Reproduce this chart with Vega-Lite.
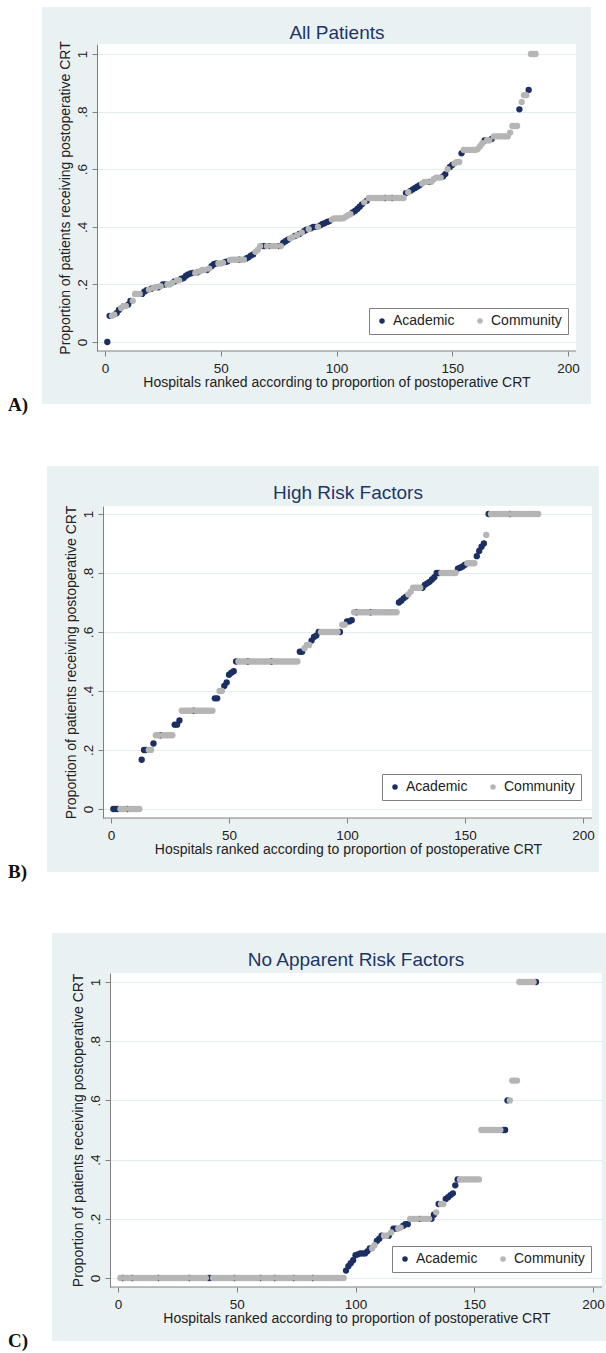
{
"$schema": "https://vega.github.io/schema/vega-lite/v6.json",
"padding": 0,
"background": "white",
"spacing": 155,
"bounds": "flush",
"datasets": {
"all": [
{"rank":1,"proportion":0,"type":"Academic"},
{"rank":2,"proportion":0.091,"type":"Academic"},
{"rank":3,"proportion":0.091,"type":"Community"},
{"rank":4,"proportion":0.095,"type":"Community"},
{"rank":5,"proportion":0.1,"type":"Academic"},
{"rank":6,"proportion":0.111,"type":"Academic"},
{"rank":7,"proportion":0.118,"type":"Community"},
{"rank":8,"proportion":0.125,"type":"Community"},
{"rank":9,"proportion":0.125,"type":"Community"},
{"rank":10,"proportion":0.13,"type":"Academic"},
{"rank":11,"proportion":0.143,"type":"Academic"},
{"rank":12,"proportion":0.143,"type":"Community"},
{"rank":13,"proportion":0.167,"type":"Community"},
{"rank":14,"proportion":0.167,"type":"Community"},
{"rank":15,"proportion":0.167,"type":"Community"},
{"rank":16,"proportion":0.167,"type":"Academic"},
{"rank":17,"proportion":0.175,"type":"Academic"},
{"rank":18,"proportion":0.18,"type":"Academic"},
{"rank":19,"proportion":0.182,"type":"Community"},
{"rank":20,"proportion":0.185,"type":"Academic"},
{"rank":21,"proportion":0.188,"type":"Community"},
{"rank":22,"proportion":0.19,"type":"Community"},
{"rank":23,"proportion":0.19,"type":"Academic"},
{"rank":24,"proportion":0.194,"type":"Community"},
{"rank":25,"proportion":0.2,"type":"Academic"},
{"rank":26,"proportion":0.2,"type":"Academic"},
{"rank":27,"proportion":0.2,"type":"Community"},
{"rank":28,"proportion":0.2,"type":"Community"},
{"rank":29,"proportion":0.205,"type":"Community"},
{"rank":30,"proportion":0.21,"type":"Academic"},
{"rank":31,"proportion":0.214,"type":"Community"},
{"rank":32,"proportion":0.214,"type":"Community"},
{"rank":33,"proportion":0.22,"type":"Academic"},
{"rank":34,"proportion":0.222,"type":"Academic"},
{"rank":35,"proportion":0.23,"type":"Academic"},
{"rank":36,"proportion":0.235,"type":"Academic"},
{"rank":37,"proportion":0.238,"type":"Academic"},
{"rank":38,"proportion":0.24,"type":"Academic"},
{"rank":39,"proportion":0.24,"type":"Community"},
{"rank":40,"proportion":0.242,"type":"Academic"},
{"rank":41,"proportion":0.245,"type":"Community"},
{"rank":42,"proportion":0.25,"type":"Community"},
{"rank":43,"proportion":0.25,"type":"Community"},
{"rank":44,"proportion":0.25,"type":"Academic"},
{"rank":45,"proportion":0.255,"type":"Community"},
{"rank":46,"proportion":0.263,"type":"Academic"},
{"rank":47,"proportion":0.27,"type":"Academic"},
{"rank":48,"proportion":0.273,"type":"Academic"},
{"rank":49,"proportion":0.273,"type":"Community"},
{"rank":50,"proportion":0.273,"type":"Community"},
{"rank":51,"proportion":0.275,"type":"Community"},
{"rank":52,"proportion":0.278,"type":"Academic"},
{"rank":53,"proportion":0.28,"type":"Academic"},
{"rank":54,"proportion":0.285,"type":"Community"},
{"rank":55,"proportion":0.286,"type":"Community"},
{"rank":56,"proportion":0.286,"type":"Community"},
{"rank":57,"proportion":0.286,"type":"Community"},
{"rank":58,"proportion":0.286,"type":"Academic"},
{"rank":59,"proportion":0.286,"type":"Community"},
{"rank":60,"proportion":0.286,"type":"Community"},
{"rank":61,"proportion":0.29,"type":"Academic"},
{"rank":62,"proportion":0.294,"type":"Academic"},
{"rank":63,"proportion":0.3,"type":"Academic"},
{"rank":64,"proportion":0.304,"type":"Academic"},
{"rank":65,"proportion":0.313,"type":"Community"},
{"rank":66,"proportion":0.32,"type":"Community"},
{"rank":67,"proportion":0.333,"type":"Community"},
{"rank":68,"proportion":0.333,"type":"Academic"},
{"rank":69,"proportion":0.333,"type":"Academic"},
{"rank":70,"proportion":0.333,"type":"Community"},
{"rank":71,"proportion":0.333,"type":"Academic"},
{"rank":72,"proportion":0.333,"type":"Community"},
{"rank":73,"proportion":0.333,"type":"Community"},
{"rank":74,"proportion":0.333,"type":"Community"},
{"rank":75,"proportion":0.333,"type":"Academic"},
{"rank":76,"proportion":0.333,"type":"Community"},
{"rank":77,"proportion":0.345,"type":"Academic"},
{"rank":78,"proportion":0.35,"type":"Academic"},
{"rank":79,"proportion":0.355,"type":"Academic"},
{"rank":80,"proportion":0.36,"type":"Community"},
{"rank":81,"proportion":0.364,"type":"Community"},
{"rank":82,"proportion":0.368,"type":"Academic"},
{"rank":83,"proportion":0.371,"type":"Community"},
{"rank":84,"proportion":0.375,"type":"Academic"},
{"rank":85,"proportion":0.38,"type":"Community"},
{"rank":86,"proportion":0.385,"type":"Academic"},
{"rank":87,"proportion":0.39,"type":"Academic"},
{"rank":88,"proportion":0.392,"type":"Community"},
{"rank":89,"proportion":0.395,"type":"Academic"},
{"rank":90,"proportion":0.4,"type":"Academic"},
{"rank":91,"proportion":0.4,"type":"Academic"},
{"rank":92,"proportion":0.4,"type":"Community"},
{"rank":93,"proportion":0.405,"type":"Academic"},
{"rank":94,"proportion":0.41,"type":"Academic"},
{"rank":95,"proportion":0.413,"type":"Academic"},
{"rank":96,"proportion":0.417,"type":"Academic"},
{"rank":97,"proportion":0.42,"type":"Academic"},
{"rank":98,"proportion":0.425,"type":"Community"},
{"rank":99,"proportion":0.429,"type":"Community"},
{"rank":100,"proportion":0.429,"type":"Community"},
{"rank":101,"proportion":0.429,"type":"Community"},
{"rank":102,"proportion":0.429,"type":"Community"},
{"rank":103,"proportion":0.43,"type":"Community"},
{"rank":104,"proportion":0.435,"type":"Community"},
{"rank":105,"proportion":0.44,"type":"Community"},
{"rank":106,"proportion":0.444,"type":"Community"},
{"rank":107,"proportion":0.45,"type":"Academic"},
{"rank":108,"proportion":0.455,"type":"Academic"},
{"rank":109,"proportion":0.462,"type":"Academic"},
{"rank":110,"proportion":0.47,"type":"Academic"},
{"rank":111,"proportion":0.478,"type":"Academic"},
{"rank":112,"proportion":0.485,"type":"Community"},
{"rank":113,"proportion":0.49,"type":"Academic"},
{"rank":114,"proportion":0.5,"type":"Community"},
{"rank":115,"proportion":0.5,"type":"Community"},
{"rank":116,"proportion":0.5,"type":"Community"},
{"rank":117,"proportion":0.5,"type":"Community"},
{"rank":118,"proportion":0.5,"type":"Community"},
{"rank":119,"proportion":0.5,"type":"Community"},
{"rank":120,"proportion":0.5,"type":"Community"},
{"rank":121,"proportion":0.5,"type":"Academic"},
{"rank":122,"proportion":0.5,"type":"Community"},
{"rank":123,"proportion":0.5,"type":"Community"},
{"rank":124,"proportion":0.5,"type":"Academic"},
{"rank":125,"proportion":0.5,"type":"Community"},
{"rank":126,"proportion":0.5,"type":"Community"},
{"rank":127,"proportion":0.5,"type":"Community"},
{"rank":128,"proportion":0.5,"type":"Community"},
{"rank":129,"proportion":0.5,"type":"Community"},
{"rank":130,"proportion":0.517,"type":"Academic"},
{"rank":131,"proportion":0.52,"type":"Community"},
{"rank":132,"proportion":0.525,"type":"Academic"},
{"rank":133,"proportion":0.53,"type":"Academic"},
{"rank":134,"proportion":0.535,"type":"Academic"},
{"rank":135,"proportion":0.54,"type":"Academic"},
{"rank":136,"proportion":0.545,"type":"Academic"},
{"rank":137,"proportion":0.55,"type":"Community"},
{"rank":138,"proportion":0.556,"type":"Community"},
{"rank":139,"proportion":0.556,"type":"Community"},
{"rank":140,"proportion":0.556,"type":"Academic"},
{"rank":141,"proportion":0.556,"type":"Community"},
{"rank":142,"proportion":0.565,"type":"Community"},
{"rank":143,"proportion":0.571,"type":"Community"},
{"rank":144,"proportion":0.571,"type":"Community"},
{"rank":145,"proportion":0.571,"type":"Community"},
{"rank":146,"proportion":0.575,"type":"Academic"},
{"rank":147,"proportion":0.583,"type":"Academic"},
{"rank":148,"proportion":0.6,"type":"Community"},
{"rank":149,"proportion":0.608,"type":"Academic"},
{"rank":150,"proportion":0.615,"type":"Academic"},
{"rank":151,"proportion":0.62,"type":"Community"},
{"rank":152,"proportion":0.625,"type":"Community"},
{"rank":153,"proportion":0.625,"type":"Community"},
{"rank":154,"proportion":0.655,"type":"Academic"},
{"rank":155,"proportion":0.667,"type":"Community"},
{"rank":156,"proportion":0.667,"type":"Community"},
{"rank":157,"proportion":0.667,"type":"Community"},
{"rank":158,"proportion":0.667,"type":"Community"},
{"rank":159,"proportion":0.667,"type":"Community"},
{"rank":160,"proportion":0.667,"type":"Community"},
{"rank":161,"proportion":0.67,"type":"Community"},
{"rank":162,"proportion":0.68,"type":"Community"},
{"rank":163,"proportion":0.69,"type":"Community"},
{"rank":164,"proportion":0.7,"type":"Academic"},
{"rank":165,"proportion":0.7,"type":"Community"},
{"rank":166,"proportion":0.7,"type":"Community"},
{"rank":167,"proportion":0.705,"type":"Academic"},
{"rank":168,"proportion":0.714,"type":"Community"},
{"rank":169,"proportion":0.714,"type":"Community"},
{"rank":170,"proportion":0.714,"type":"Community"},
{"rank":171,"proportion":0.714,"type":"Community"},
{"rank":172,"proportion":0.714,"type":"Community"},
{"rank":173,"proportion":0.714,"type":"Community"},
{"rank":174,"proportion":0.714,"type":"Community"},
{"rank":175,"proportion":0.727,"type":"Community"},
{"rank":176,"proportion":0.75,"type":"Community"},
{"rank":177,"proportion":0.75,"type":"Community"},
{"rank":178,"proportion":0.75,"type":"Community"},
{"rank":179,"proportion":0.808,"type":"Academic"},
{"rank":180,"proportion":0.833,"type":"Community"},
{"rank":181,"proportion":0.857,"type":"Community"},
{"rank":182,"proportion":0.857,"type":"Community"},
{"rank":183,"proportion":0.875,"type":"Academic"},
{"rank":184,"proportion":1,"type":"Community"},
{"rank":185,"proportion":1,"type":"Community"},
{"rank":186,"proportion":1,"type":"Community"}
],
"high": [
{"rank":1,"proportion":0,"type":"Academic"},
{"rank":2,"proportion":0,"type":"Academic"},
{"rank":3,"proportion":0,"type":"Academic"},
{"rank":4,"proportion":0,"type":"Community"},
{"rank":5,"proportion":0,"type":"Community"},
{"rank":6,"proportion":0,"type":"Community"},
{"rank":7,"proportion":0,"type":"Academic"},
{"rank":8,"proportion":0,"type":"Community"},
{"rank":9,"proportion":0,"type":"Community"},
{"rank":10,"proportion":0,"type":"Community"},
{"rank":11,"proportion":0,"type":"Community"},
{"rank":12,"proportion":0,"type":"Community"},
{"rank":13,"proportion":0.167,"type":"Academic"},
{"rank":14,"proportion":0.2,"type":"Academic"},
{"rank":15,"proportion":0.2,"type":"Academic"},
{"rank":16,"proportion":0.2,"type":"Community"},
{"rank":17,"proportion":0.2,"type":"Community"},
{"rank":18,"proportion":0.222,"type":"Academic"},
{"rank":19,"proportion":0.25,"type":"Community"},
{"rank":20,"proportion":0.25,"type":"Community"},
{"rank":21,"proportion":0.25,"type":"Academic"},
{"rank":22,"proportion":0.25,"type":"Community"},
{"rank":23,"proportion":0.25,"type":"Community"},
{"rank":24,"proportion":0.25,"type":"Community"},
{"rank":25,"proportion":0.25,"type":"Community"},
{"rank":26,"proportion":0.25,"type":"Community"},
{"rank":27,"proportion":0.286,"type":"Academic"},
{"rank":28,"proportion":0.286,"type":"Academic"},
{"rank":29,"proportion":0.3,"type":"Academic"},
{"rank":30,"proportion":0.333,"type":"Community"},
{"rank":31,"proportion":0.333,"type":"Community"},
{"rank":32,"proportion":0.333,"type":"Community"},
{"rank":33,"proportion":0.333,"type":"Community"},
{"rank":34,"proportion":0.333,"type":"Community"},
{"rank":35,"proportion":0.333,"type":"Academic"},
{"rank":36,"proportion":0.333,"type":"Community"},
{"rank":37,"proportion":0.333,"type":"Community"},
{"rank":38,"proportion":0.333,"type":"Community"},
{"rank":39,"proportion":0.333,"type":"Community"},
{"rank":40,"proportion":0.333,"type":"Community"},
{"rank":41,"proportion":0.333,"type":"Community"},
{"rank":42,"proportion":0.333,"type":"Community"},
{"rank":43,"proportion":0.333,"type":"Community"},
{"rank":44,"proportion":0.375,"type":"Academic"},
{"rank":45,"proportion":0.375,"type":"Academic"},
{"rank":46,"proportion":0.4,"type":"Community"},
{"rank":47,"proportion":0.4,"type":"Community"},
{"rank":48,"proportion":0.417,"type":"Academic"},
{"rank":49,"proportion":0.429,"type":"Academic"},
{"rank":50,"proportion":0.455,"type":"Academic"},
{"rank":51,"proportion":0.462,"type":"Academic"},
{"rank":52,"proportion":0.467,"type":"Academic"},
{"rank":53,"proportion":0.5,"type":"Academic"},
{"rank":54,"proportion":0.5,"type":"Community"},
{"rank":55,"proportion":0.5,"type":"Community"},
{"rank":56,"proportion":0.5,"type":"Community"},
{"rank":57,"proportion":0.5,"type":"Community"},
{"rank":58,"proportion":0.5,"type":"Academic"},
{"rank":59,"proportion":0.5,"type":"Community"},
{"rank":60,"proportion":0.5,"type":"Community"},
{"rank":61,"proportion":0.5,"type":"Community"},
{"rank":62,"proportion":0.5,"type":"Community"},
{"rank":63,"proportion":0.5,"type":"Community"},
{"rank":64,"proportion":0.5,"type":"Community"},
{"rank":65,"proportion":0.5,"type":"Community"},
{"rank":66,"proportion":0.5,"type":"Community"},
{"rank":67,"proportion":0.5,"type":"Community"},
{"rank":68,"proportion":0.5,"type":"Academic"},
{"rank":69,"proportion":0.5,"type":"Community"},
{"rank":70,"proportion":0.5,"type":"Community"},
{"rank":71,"proportion":0.5,"type":"Community"},
{"rank":72,"proportion":0.5,"type":"Community"},
{"rank":73,"proportion":0.5,"type":"Community"},
{"rank":74,"proportion":0.5,"type":"Community"},
{"rank":75,"proportion":0.5,"type":"Community"},
{"rank":76,"proportion":0.5,"type":"Community"},
{"rank":77,"proportion":0.5,"type":"Community"},
{"rank":78,"proportion":0.5,"type":"Community"},
{"rank":79,"proportion":0.5,"type":"Community"},
{"rank":80,"proportion":0.533,"type":"Academic"},
{"rank":81,"proportion":0.533,"type":"Academic"},
{"rank":82,"proportion":0.545,"type":"Community"},
{"rank":83,"proportion":0.556,"type":"Community"},
{"rank":84,"proportion":0.556,"type":"Community"},
{"rank":85,"proportion":0.571,"type":"Academic"},
{"rank":86,"proportion":0.583,"type":"Academic"},
{"rank":87,"proportion":0.588,"type":"Academic"},
{"rank":88,"proportion":0.6,"type":"Academic"},
{"rank":89,"proportion":0.6,"type":"Community"},
{"rank":90,"proportion":0.6,"type":"Community"},
{"rank":91,"proportion":0.6,"type":"Community"},
{"rank":92,"proportion":0.6,"type":"Community"},
{"rank":93,"proportion":0.6,"type":"Community"},
{"rank":94,"proportion":0.6,"type":"Community"},
{"rank":95,"proportion":0.6,"type":"Community"},
{"rank":96,"proportion":0.6,"type":"Community"},
{"rank":97,"proportion":0.6,"type":"Academic"},
{"rank":98,"proportion":0.625,"type":"Community"},
{"rank":99,"proportion":0.625,"type":"Community"},
{"rank":100,"proportion":0.636,"type":"Academic"},
{"rank":101,"proportion":0.636,"type":"Academic"},
{"rank":102,"proportion":0.64,"type":"Academic"},
{"rank":103,"proportion":0.667,"type":"Community"},
{"rank":104,"proportion":0.667,"type":"Academic"},
{"rank":105,"proportion":0.667,"type":"Community"},
{"rank":106,"proportion":0.667,"type":"Community"},
{"rank":107,"proportion":0.667,"type":"Community"},
{"rank":108,"proportion":0.667,"type":"Community"},
{"rank":109,"proportion":0.667,"type":"Community"},
{"rank":110,"proportion":0.667,"type":"Academic"},
{"rank":111,"proportion":0.667,"type":"Community"},
{"rank":112,"proportion":0.667,"type":"Community"},
{"rank":113,"proportion":0.667,"type":"Community"},
{"rank":114,"proportion":0.667,"type":"Community"},
{"rank":115,"proportion":0.667,"type":"Community"},
{"rank":116,"proportion":0.667,"type":"Community"},
{"rank":117,"proportion":0.667,"type":"Community"},
{"rank":118,"proportion":0.667,"type":"Community"},
{"rank":119,"proportion":0.667,"type":"Community"},
{"rank":120,"proportion":0.667,"type":"Community"},
{"rank":121,"proportion":0.667,"type":"Community"},
{"rank":122,"proportion":0.7,"type":"Academic"},
{"rank":123,"proportion":0.706,"type":"Academic"},
{"rank":124,"proportion":0.714,"type":"Academic"},
{"rank":125,"proportion":0.72,"type":"Academic"},
{"rank":126,"proportion":0.727,"type":"Community"},
{"rank":127,"proportion":0.737,"type":"Community"},
{"rank":128,"proportion":0.75,"type":"Community"},
{"rank":129,"proportion":0.75,"type":"Community"},
{"rank":130,"proportion":0.75,"type":"Community"},
{"rank":131,"proportion":0.75,"type":"Community"},
{"rank":132,"proportion":0.75,"type":"Academic"},
{"rank":133,"proportion":0.76,"type":"Academic"},
{"rank":134,"proportion":0.765,"type":"Academic"},
{"rank":135,"proportion":0.77,"type":"Academic"},
{"rank":136,"proportion":0.778,"type":"Academic"},
{"rank":137,"proportion":0.786,"type":"Academic"},
{"rank":138,"proportion":0.8,"type":"Academic"},
{"rank":139,"proportion":0.8,"type":"Academic"},
{"rank":140,"proportion":0.8,"type":"Community"},
{"rank":141,"proportion":0.8,"type":"Community"},
{"rank":142,"proportion":0.8,"type":"Community"},
{"rank":143,"proportion":0.8,"type":"Community"},
{"rank":144,"proportion":0.8,"type":"Community"},
{"rank":145,"proportion":0.8,"type":"Community"},
{"rank":146,"proportion":0.8,"type":"Community"},
{"rank":147,"proportion":0.815,"type":"Academic"},
{"rank":148,"proportion":0.818,"type":"Academic"},
{"rank":149,"proportion":0.822,"type":"Academic"},
{"rank":150,"proportion":0.828,"type":"Academic"},
{"rank":151,"proportion":0.833,"type":"Community"},
{"rank":152,"proportion":0.833,"type":"Community"},
{"rank":153,"proportion":0.833,"type":"Community"},
{"rank":154,"proportion":0.833,"type":"Community"},
{"rank":155,"proportion":0.857,"type":"Academic"},
{"rank":156,"proportion":0.875,"type":"Academic"},
{"rank":157,"proportion":0.889,"type":"Academic"},
{"rank":158,"proportion":0.9,"type":"Academic"},
{"rank":159,"proportion":0.929,"type":"Community"},
{"rank":160,"proportion":1,"type":"Academic"},
{"rank":161,"proportion":1,"type":"Community"},
{"rank":162,"proportion":1,"type":"Community"},
{"rank":163,"proportion":1,"type":"Community"},
{"rank":164,"proportion":1,"type":"Community"},
{"rank":165,"proportion":1,"type":"Community"},
{"rank":166,"proportion":1,"type":"Community"},
{"rank":167,"proportion":1,"type":"Community"},
{"rank":168,"proportion":1,"type":"Community"},
{"rank":169,"proportion":1,"type":"Academic"},
{"rank":170,"proportion":1,"type":"Community"},
{"rank":171,"proportion":1,"type":"Community"},
{"rank":172,"proportion":1,"type":"Community"},
{"rank":173,"proportion":1,"type":"Community"},
{"rank":174,"proportion":1,"type":"Community"},
{"rank":175,"proportion":1,"type":"Community"},
{"rank":176,"proportion":1,"type":"Community"},
{"rank":177,"proportion":1,"type":"Community"},
{"rank":178,"proportion":1,"type":"Community"},
{"rank":179,"proportion":1,"type":"Community"},
{"rank":180,"proportion":1,"type":"Community"},
{"rank":181,"proportion":1,"type":"Community"}
],
"none": [
{"rank":1,"proportion":0,"type":"Community"},
{"rank":2,"proportion":0,"type":"Academic"},
{"rank":3,"proportion":0,"type":"Community"},
{"rank":4,"proportion":0,"type":"Community"},
{"rank":5,"proportion":0,"type":"Community"},
{"rank":6,"proportion":0,"type":"Academic"},
{"rank":7,"proportion":0,"type":"Community"},
{"rank":8,"proportion":0,"type":"Community"},
{"rank":9,"proportion":0,"type":"Community"},
{"rank":10,"proportion":0,"type":"Community"},
{"rank":11,"proportion":0,"type":"Community"},
{"rank":12,"proportion":0,"type":"Community"},
{"rank":13,"proportion":0,"type":"Community"},
{"rank":14,"proportion":0,"type":"Community"},
{"rank":15,"proportion":0,"type":"Community"},
{"rank":16,"proportion":0,"type":"Community"},
{"rank":17,"proportion":0,"type":"Academic"},
{"rank":18,"proportion":0,"type":"Community"},
{"rank":19,"proportion":0,"type":"Community"},
{"rank":20,"proportion":0,"type":"Community"},
{"rank":21,"proportion":0,"type":"Community"},
{"rank":22,"proportion":0,"type":"Community"},
{"rank":23,"proportion":0,"type":"Community"},
{"rank":24,"proportion":0,"type":"Community"},
{"rank":25,"proportion":0,"type":"Community"},
{"rank":26,"proportion":0,"type":"Community"},
{"rank":27,"proportion":0,"type":"Community"},
{"rank":28,"proportion":0,"type":"Community"},
{"rank":29,"proportion":0,"type":"Community"},
{"rank":30,"proportion":0,"type":"Academic"},
{"rank":31,"proportion":0,"type":"Community"},
{"rank":32,"proportion":0,"type":"Community"},
{"rank":33,"proportion":0,"type":"Community"},
{"rank":34,"proportion":0,"type":"Community"},
{"rank":35,"proportion":0,"type":"Community"},
{"rank":36,"proportion":0,"type":"Community"},
{"rank":37,"proportion":0,"type":"Community"},
{"rank":38,"proportion":0,"type":"Academic"},
{"rank":39,"proportion":0,"type":"Academic"},
{"rank":40,"proportion":0,"type":"Community"},
{"rank":41,"proportion":0,"type":"Community"},
{"rank":42,"proportion":0,"type":"Community"},
{"rank":43,"proportion":0,"type":"Community"},
{"rank":44,"proportion":0,"type":"Community"},
{"rank":45,"proportion":0,"type":"Community"},
{"rank":46,"proportion":0,"type":"Community"},
{"rank":47,"proportion":0,"type":"Community"},
{"rank":48,"proportion":0,"type":"Community"},
{"rank":49,"proportion":0,"type":"Academic"},
{"rank":50,"proportion":0,"type":"Community"},
{"rank":51,"proportion":0,"type":"Community"},
{"rank":52,"proportion":0,"type":"Community"},
{"rank":53,"proportion":0,"type":"Community"},
{"rank":54,"proportion":0,"type":"Community"},
{"rank":55,"proportion":0,"type":"Community"},
{"rank":56,"proportion":0,"type":"Community"},
{"rank":57,"proportion":0,"type":"Community"},
{"rank":58,"proportion":0,"type":"Community"},
{"rank":59,"proportion":0,"type":"Community"},
{"rank":60,"proportion":0,"type":"Academic"},
{"rank":61,"proportion":0,"type":"Community"},
{"rank":62,"proportion":0,"type":"Community"},
{"rank":63,"proportion":0,"type":"Community"},
{"rank":64,"proportion":0,"type":"Community"},
{"rank":65,"proportion":0,"type":"Community"},
{"rank":66,"proportion":0,"type":"Academic"},
{"rank":67,"proportion":0,"type":"Community"},
{"rank":68,"proportion":0,"type":"Community"},
{"rank":69,"proportion":0,"type":"Community"},
{"rank":70,"proportion":0,"type":"Community"},
{"rank":71,"proportion":0,"type":"Community"},
{"rank":72,"proportion":0,"type":"Community"},
{"rank":73,"proportion":0,"type":"Community"},
{"rank":74,"proportion":0,"type":"Academic"},
{"rank":75,"proportion":0,"type":"Community"},
{"rank":76,"proportion":0,"type":"Community"},
{"rank":77,"proportion":0,"type":"Community"},
{"rank":78,"proportion":0,"type":"Community"},
{"rank":79,"proportion":0,"type":"Community"},
{"rank":80,"proportion":0,"type":"Community"},
{"rank":81,"proportion":0,"type":"Community"},
{"rank":82,"proportion":0,"type":"Academic"},
{"rank":83,"proportion":0,"type":"Community"},
{"rank":84,"proportion":0,"type":"Community"},
{"rank":85,"proportion":0,"type":"Community"},
{"rank":86,"proportion":0,"type":"Community"},
{"rank":87,"proportion":0,"type":"Community"},
{"rank":88,"proportion":0,"type":"Community"},
{"rank":89,"proportion":0,"type":"Community"},
{"rank":90,"proportion":0,"type":"Community"},
{"rank":91,"proportion":0,"type":"Community"},
{"rank":92,"proportion":0,"type":"Community"},
{"rank":93,"proportion":0,"type":"Community"},
{"rank":94,"proportion":0,"type":"Community"},
{"rank":95,"proportion":0,"type":"Community"},
{"rank":96,"proportion":0.025,"type":"Academic"},
{"rank":97,"proportion":0.04,"type":"Academic"},
{"rank":98,"proportion":0.05,"type":"Academic"},
{"rank":99,"proportion":0.06,"type":"Academic"},
{"rank":100,"proportion":0.077,"type":"Academic"},
{"rank":101,"proportion":0.08,"type":"Academic"},
{"rank":102,"proportion":0.083,"type":"Academic"},
{"rank":103,"proportion":0.083,"type":"Academic"},
{"rank":104,"proportion":0.083,"type":"Academic"},
{"rank":105,"proportion":0.09,"type":"Academic"},
{"rank":106,"proportion":0.1,"type":"Academic"},
{"rank":107,"proportion":0.1,"type":"Community"},
{"rank":108,"proportion":0.111,"type":"Community"},
{"rank":109,"proportion":0.125,"type":"Academic"},
{"rank":110,"proportion":0.133,"type":"Academic"},
{"rank":111,"proportion":0.143,"type":"Academic"},
{"rank":112,"proportion":0.143,"type":"Community"},
{"rank":113,"proportion":0.143,"type":"Community"},
{"rank":114,"proportion":0.143,"type":"Academic"},
{"rank":115,"proportion":0.154,"type":"Community"},
{"rank":116,"proportion":0.167,"type":"Academic"},
{"rank":117,"proportion":0.167,"type":"Academic"},
{"rank":118,"proportion":0.167,"type":"Community"},
{"rank":119,"proportion":0.17,"type":"Community"},
{"rank":120,"proportion":0.176,"type":"Academic"},
{"rank":121,"proportion":0.182,"type":"Academic"},
{"rank":122,"proportion":0.182,"type":"Academic"},
{"rank":123,"proportion":0.2,"type":"Community"},
{"rank":124,"proportion":0.2,"type":"Community"},
{"rank":125,"proportion":0.2,"type":"Community"},
{"rank":126,"proportion":0.2,"type":"Community"},
{"rank":127,"proportion":0.2,"type":"Academic"},
{"rank":128,"proportion":0.2,"type":"Community"},
{"rank":129,"proportion":0.2,"type":"Community"},
{"rank":130,"proportion":0.2,"type":"Community"},
{"rank":131,"proportion":0.2,"type":"Community"},
{"rank":132,"proportion":0.2,"type":"Academic"},
{"rank":133,"proportion":0.214,"type":"Academic"},
{"rank":134,"proportion":0.222,"type":"Community"},
{"rank":135,"proportion":0.25,"type":"Academic"},
{"rank":136,"proportion":0.25,"type":"Community"},
{"rank":137,"proportion":0.25,"type":"Community"},
{"rank":138,"proportion":0.267,"type":"Academic"},
{"rank":139,"proportion":0.273,"type":"Academic"},
{"rank":140,"proportion":0.28,"type":"Academic"},
{"rank":141,"proportion":0.286,"type":"Academic"},
{"rank":142,"proportion":0.313,"type":"Academic"},
{"rank":143,"proportion":0.333,"type":"Academic"},
{"rank":144,"proportion":0.333,"type":"Community"},
{"rank":145,"proportion":0.333,"type":"Community"},
{"rank":146,"proportion":0.333,"type":"Community"},
{"rank":147,"proportion":0.333,"type":"Community"},
{"rank":148,"proportion":0.333,"type":"Community"},
{"rank":149,"proportion":0.333,"type":"Community"},
{"rank":150,"proportion":0.333,"type":"Community"},
{"rank":151,"proportion":0.333,"type":"Community"},
{"rank":152,"proportion":0.333,"type":"Community"},
{"rank":153,"proportion":0.5,"type":"Community"},
{"rank":154,"proportion":0.5,"type":"Community"},
{"rank":155,"proportion":0.5,"type":"Community"},
{"rank":156,"proportion":0.5,"type":"Community"},
{"rank":157,"proportion":0.5,"type":"Community"},
{"rank":158,"proportion":0.5,"type":"Community"},
{"rank":159,"proportion":0.5,"type":"Community"},
{"rank":160,"proportion":0.5,"type":"Community"},
{"rank":161,"proportion":0.5,"type":"Community"},
{"rank":162,"proportion":0.5,"type":"Academic"},
{"rank":163,"proportion":0.5,"type":"Academic"},
{"rank":164,"proportion":0.6,"type":"Academic"},
{"rank":165,"proportion":0.6,"type":"Community"},
{"rank":166,"proportion":0.667,"type":"Community"},
{"rank":167,"proportion":0.667,"type":"Community"},
{"rank":168,"proportion":0.667,"type":"Community"},
{"rank":169,"proportion":1,"type":"Community"},
{"rank":170,"proportion":1,"type":"Community"},
{"rank":171,"proportion":1,"type":"Community"},
{"rank":172,"proportion":1,"type":"Community"},
{"rank":173,"proportion":1,"type":"Community"},
{"rank":174,"proportion":1,"type":"Community"},
{"rank":175,"proportion":1,"type":"Community"},
{"rank":176,"proportion":1,"type":"Academic"}
]
},
"vconcat": [
{
"width": 479, "height": 307,
"layer": [
{"data": {"values": [{}]}, "mark": {"type": "rect", "color": "#ffffff", "clip": false},
 "encoding": {"x": {"datum": -45.356, "type": "quantitative", "scale": {"domain": [-3.456, 203.456], "nice": false, "zero": false}, "axis": null}, "x2": {"datum": -44.92},
  "y": {"datum": 1.18403, "type": "quantitative", "scale": {"domain": [-0.03125, 1.03472], "nice": false, "zero": false}, "axis": null}, "y2": {"datum": 1.18056}}},
{"data": {"values": [{}]}, "mark": {"type": "rect", "color": "#eaf1f3", "clip": false},
 "encoding": {"x": {"datum": -27.214, "type": "quantitative", "scale": {"domain": [-3.456, 203.456], "nice": false, "zero": false}, "axis": null}, "x2": {"datum": 209.935},
  "y": {"datum": 1.03472, "type": "quantitative", "scale": {"domain": [-0.03125, 1.03472], "nice": false, "zero": false},
        "axis": {"orient": "left", "values": [0, 0.2, 0.4, 0.6, 0.8, 1], "grid": true, "gridColor": "#e3ecef", "gridWidth": 1, "labels": false, "ticks": false, "domain": false, "title": null, "zindex": 0}},
  "y2": {"datum": 1.16319}}},
{"data": {"values": [{}]}, "mark": {"type": "rect", "color": "#eaf1f3", "clip": false},
 "encoding": {"x": {"datum": -27.214, "type": "quantitative", "scale": {"domain": [-3.456, 203.456], "nice": false, "zero": false}, "axis": null}, "x2": {"datum": 209.935},
  "y": {"datum": -0.21528, "type": "quantitative", "scale": {"domain": [-0.03125, 1.03472], "nice": false, "zero": false}, "axis": null}, "y2": {"datum": -0.03125}}},
{"data": {"values": [{}]}, "mark": {"type": "rect", "color": "#eaf1f3", "clip": false},
 "encoding": {"x": {"datum": -27.214, "type": "quantitative", "scale": {"domain": [-3.456, 203.456], "nice": false, "zero": false}, "axis": null}, "x2": {"datum": -3.456},
  "y": {"datum": -0.21528, "type": "quantitative", "scale": {"domain": [-0.03125, 1.03472], "nice": false, "zero": false}, "axis": null}, "y2": {"datum": 1.16319}}},
{"data": {"values": [{}]}, "mark": {"type": "rect", "color": "#eaf1f3", "clip": false},
 "encoding": {"x": {"datum": 203.456, "type": "quantitative", "scale": {"domain": [-3.456, 203.456], "nice": false, "zero": false}, "axis": null}, "x2": {"datum": 209.935},
  "y": {"datum": -0.21528, "type": "quantitative", "scale": {"domain": [-0.03125, 1.03472], "nice": false, "zero": false}, "axis": null}, "y2": {"datum": 1.16319}}},
{"data": {"values": [{}]}, "mark": {"type": "rule", "color": "#808080", "strokeWidth": 1, "clip": false},
 "encoding": {"x": {"datum": -3.456, "type": "quantitative", "scale": {"domain": [-3.456, 203.456], "nice": false, "zero": false}, "axis": null}, "x2": {"datum": 203.456},
  "y": {"datum": -0.03125, "type": "quantitative", "scale": {"domain": [-0.03125, 1.03472], "nice": false, "zero": false}, "axis": null}}},
{"data": {"values": [{}]}, "mark": {"type": "text", "text": "All Patients", "font": "Liberation Sans", "fontSize": 19, "color": "#1c3668", "align": "center", "baseline": "alphabetic", "clip": false},
 "encoding": {"x": {"datum": 100.2, "type": "quantitative", "scale": {"domain": [-3.456, 203.456], "nice": false, "zero": false}, "axis": null},
  "y": {"datum": 1.052, "type": "quantitative", "scale": {"domain": [-0.03125, 1.03472], "nice": false, "zero": false}, "axis": null}}},
{"data": {"values": [{}]}, "mark": {"type": "text", "text": "A)", "font": "Liberation Serif", "fontWeight": "bold", "fontSize": 19, "color": "#111111", "align": "left", "baseline": "alphabetic", "clip": false},
 "encoding": {"x": {"datum": -41.9, "type": "quantitative", "scale": {"domain": [-3.456, 203.456], "nice": false, "zero": false}, "axis": null},
  "y": {"datum": -0.2396, "type": "quantitative", "scale": {"domain": [-0.03125, 1.03472], "nice": false, "zero": false}, "axis": null}}},
{"data": {"name": "all"}, "mark": {"type": "circle", "size": 40, "opacity": 1},
 "encoding": {
  "x": {"field": "rank", "type": "quantitative", "scale": {"domain": [-3.456, 203.456], "nice": false, "zero": false},
        "axis": {"orient": "bottom", "values": [0, 50, 100, 150, 200], "grid": false, "domain": false, "ticks": true, "labels": true, "labelPadding": 5, "labelFlush": false, "labelOverlap": false, "title": "Hospitals ranked according to proportion of postoperative CRT", "titlePadding": 1, "zindex": 1}},
  "y": {"field": "proportion", "type": "quantitative", "scale": {"domain": [-0.03125, 1.03472], "nice": false, "zero": false},
        "axis": {"orient": "left", "values": [0, 0.2, 0.4, 0.6, 0.8, 1], "grid": false, "domain": true, "labelAngle": 270, "labelPadding": 3, "labelFlush": false, "labelOverlap": false, "labelExpr": "datum.value == 0 ? '0' : datum.value == 1 ? '1' : replace(format(datum.value, '.1f'), '0.', '.')", "title": "Proportion of patients receiving postoperative CRT", "titlePadding": 2.5, "zindex": 1}},
  "color": {"field": "type", "type": "nominal", "scale": {"domain": ["Academic", "Community"], "range": ["#1b2f63", "#b5b5b5"]},
        "legend": {"title": null, "orient": "none", "legendX": 272, "legendY": 264, "direction": "horizontal"}},
  "order": {"field": "type", "sort": "ascending"}
 }}
],
"resolve": {"axis": {"x": "independent", "y": "independent"}}
},
{
"width": 495, "height": 312,
"layer": [
{"data": {"values": [{}]}, "mark": {"type": "rect", "color": "#eaf1f3", "clip": false},
 "encoding": {"x": {"datum": -27.119, "type": "quantitative", "scale": {"domain": [-5.932, 203.814], "nice": false, "zero": false}, "axis": null}, "x2": {"datum": 206.78},
  "y": {"datum": 1.02712, "type": "quantitative", "scale": {"domain": [-0.03051, 1.02712], "nice": false, "zero": false},
        "axis": {"orient": "left", "values": [0, 0.2, 0.4, 0.6, 0.8, 1], "grid": true, "gridColor": "#e3ecef", "gridWidth": 1, "labels": false, "ticks": false, "domain": false, "title": null, "zindex": 0}},
  "y2": {"datum": 1.16271}}},
{"data": {"values": [{}]}, "mark": {"type": "rect", "color": "#eaf1f3", "clip": false},
 "encoding": {"x": {"datum": -27.119, "type": "quantitative", "scale": {"domain": [-5.932, 203.814], "nice": false, "zero": false}, "axis": null}, "x2": {"datum": 206.78},
  "y": {"datum": -0.21356, "type": "quantitative", "scale": {"domain": [-0.03051, 1.02712], "nice": false, "zero": false}, "axis": null}, "y2": {"datum": -0.03051}}},
{"data": {"values": [{}]}, "mark": {"type": "rect", "color": "#eaf1f3", "clip": false},
 "encoding": {"x": {"datum": -27.119, "type": "quantitative", "scale": {"domain": [-5.932, 203.814], "nice": false, "zero": false}, "axis": null}, "x2": {"datum": -3.39},
  "y": {"datum": -0.21356, "type": "quantitative", "scale": {"domain": [-0.03051, 1.02712], "nice": false, "zero": false}, "axis": null}, "y2": {"datum": 1.16271}}},
{"data": {"values": [{}]}, "mark": {"type": "rect", "color": "#eaf1f3", "clip": false},
 "encoding": {"x": {"datum": 203.814, "type": "quantitative", "scale": {"domain": [-5.932, 203.814], "nice": false, "zero": false}, "axis": null}, "x2": {"datum": 206.78},
  "y": {"datum": -0.21356, "type": "quantitative", "scale": {"domain": [-0.03051, 1.02712], "nice": false, "zero": false}, "axis": null}, "y2": {"datum": 1.16271}}},
{"data": {"values": [{}]}, "mark": {"type": "rule", "color": "#808080", "strokeWidth": 1, "clip": false},
 "encoding": {"x": {"datum": -3.39, "type": "quantitative", "scale": {"domain": [-5.932, 203.814], "nice": false, "zero": false}, "axis": null}, "x2": {"datum": 203.814},
  "y": {"datum": -0.03051, "type": "quantitative", "scale": {"domain": [-0.03051, 1.02712], "nice": false, "zero": false}, "axis": null}}},
{"data": {"values": [{}]}, "mark": {"type": "text", "text": "High Risk Factors", "font": "Liberation Sans", "fontSize": 19, "color": "#1c3668", "align": "center", "baseline": "alphabetic", "clip": false},
 "encoding": {"x": {"datum": 100.4, "type": "quantitative", "scale": {"domain": [-5.932, 203.814], "nice": false, "zero": false}, "axis": null},
  "y": {"datum": 1.0508, "type": "quantitative", "scale": {"domain": [-0.03051, 1.02712], "nice": false, "zero": false}, "axis": null}}},
{"data": {"values": [{}]}, "mark": {"type": "text", "text": "B)", "font": "Liberation Serif", "fontWeight": "bold", "fontSize": 19, "color": "#111111", "align": "left", "baseline": "alphabetic", "clip": false},
 "encoding": {"x": {"datum": -43.64, "type": "quantitative", "scale": {"domain": [-5.932, 203.814], "nice": false, "zero": false}, "axis": null},
  "y": {"datum": -0.2339, "type": "quantitative", "scale": {"domain": [-0.03051, 1.02712], "nice": false, "zero": false}, "axis": null}}},
{"data": {"name": "high"}, "mark": {"type": "circle", "size": 40, "opacity": 1},
 "encoding": {
  "x": {"field": "rank", "type": "quantitative", "scale": {"domain": [-5.932, 203.814], "nice": false, "zero": false},
        "axis": {"orient": "bottom", "values": [0, 50, 100, 150, 200], "grid": false, "domain": false, "ticks": true, "labels": true, "labelPadding": 5, "labelFlush": false, "labelOverlap": false, "title": "Hospitals ranked according to proportion of postoperative CRT", "titlePadding": 1, "titleX": 251, "titleAlign": "center", "zindex": 1}},
  "y": {"field": "proportion", "type": "quantitative", "scale": {"domain": [-0.03051, 1.02712], "nice": false, "zero": false},
        "axis": {"orient": "left", "offset": -6, "values": [0, 0.2, 0.4, 0.6, 0.8, 1], "grid": false, "domain": true, "labelAngle": 270, "labelPadding": 3, "labelFlush": false, "labelOverlap": false, "labelExpr": "datum.value == 0 ? '0' : datum.value == 1 ? '1' : replace(format(datum.value, '.1f'), '0.', '.')", "title": "Proportion of patients receiving postoperative CRT", "titlePadding": 2.5, "zindex": 1}},
  "color": {"field": "type", "type": "nominal", "scale": {"domain": ["Academic", "Community"], "range": ["#1b2f63", "#b5b5b5"]},
        "legend": {"title": null, "orient": "none", "legendX": 285, "legendY": 268, "direction": "horizontal"}},
  "order": {"field": "type", "sort": "ascending"}
 }}
],
"resolve": {"axis": {"x": "independent", "y": "independent"}}
},
{
"width": 505, "height": 314,
"layer": [
{"data": {"values": [{}]}, "mark": {"type": "rect", "color": "#eaf1f3", "clip": false},
 "encoding": {"x": {"datum": -27.789, "type": "quantitative", "scale": {"domain": [-8.842, 203.789], "nice": false, "zero": false}, "axis": null}, "x2": {"datum": 205.474},
  "y": {"datum": 1.03041, "type": "quantitative", "scale": {"domain": [-0.03041, 1.03041], "nice": false, "zero": false},
        "axis": {"orient": "left", "values": [0, 0.2, 0.4, 0.6, 0.8, 1], "grid": true, "gridColor": "#e3ecef", "gridWidth": 1, "labels": false, "ticks": false, "domain": false, "title": null, "zindex": 0}},
  "y2": {"datum": 1.16554}}},
{"data": {"values": [{}]}, "mark": {"type": "rect", "color": "#eaf1f3", "clip": false},
 "encoding": {"x": {"datum": -27.789, "type": "quantitative", "scale": {"domain": [-8.842, 203.789], "nice": false, "zero": false}, "axis": null}, "x2": {"datum": 205.474},
  "y": {"datum": -0.21284, "type": "quantitative", "scale": {"domain": [-0.03041, 1.03041], "nice": false, "zero": false}, "axis": null}, "y2": {"datum": -0.03041}}},
{"data": {"values": [{}]}, "mark": {"type": "rect", "color": "#eaf1f3", "clip": false},
 "encoding": {"x": {"datum": -27.789, "type": "quantitative", "scale": {"domain": [-8.842, 203.789], "nice": false, "zero": false}, "axis": null}, "x2": {"datum": -3.368},
  "y": {"datum": -0.21284, "type": "quantitative", "scale": {"domain": [-0.03041, 1.03041], "nice": false, "zero": false}, "axis": null}, "y2": {"datum": 1.16554}}},
{"data": {"values": [{}]}, "mark": {"type": "rect", "color": "#eaf1f3", "clip": false},
 "encoding": {"x": {"datum": 203.789, "type": "quantitative", "scale": {"domain": [-8.842, 203.789], "nice": false, "zero": false}, "axis": null}, "x2": {"datum": 205.474},
  "y": {"datum": -0.21284, "type": "quantitative", "scale": {"domain": [-0.03041, 1.03041], "nice": false, "zero": false}, "axis": null}, "y2": {"datum": 1.16554}}},
{"data": {"values": [{}]}, "mark": {"type": "rule", "color": "#808080", "strokeWidth": 1, "clip": false},
 "encoding": {"x": {"datum": -3.368, "type": "quantitative", "scale": {"domain": [-8.842, 203.789], "nice": false, "zero": false}, "axis": null}, "x2": {"datum": 203.789},
  "y": {"datum": -0.03041, "type": "quantitative", "scale": {"domain": [-0.03041, 1.03041], "nice": false, "zero": false}, "axis": null}}},
{"data": {"values": [{}]}, "mark": {"type": "text", "text": "No Apparent Risk Factors", "font": "Liberation Sans", "fontSize": 19, "color": "#1c3668", "align": "center", "baseline": "alphabetic", "clip": false},
 "encoding": {"x": {"datum": 100.2, "type": "quantitative", "scale": {"domain": [-8.842, 203.789], "nice": false, "zero": false}, "axis": null},
  "y": {"datum": 1.054, "type": "quantitative", "scale": {"domain": [-0.03041, 1.03041], "nice": false, "zero": false}, "axis": null}}},
{"data": {"values": [{}]}, "mark": {"type": "text", "text": "C)", "font": "Liberation Serif", "fontWeight": "bold", "fontSize": 19, "color": "#111111", "align": "left", "baseline": "alphabetic", "clip": false},
 "encoding": {"x": {"datum": -46.32, "type": "quantitative", "scale": {"domain": [-8.842, 203.789], "nice": false, "zero": false}, "axis": null},
  "y": {"datum": -0.2331, "type": "quantitative", "scale": {"domain": [-0.03041, 1.03041], "nice": false, "zero": false}, "axis": null}}},
{"data": {"name": "none"}, "mark": {"type": "circle", "size": 40, "opacity": 1},
 "encoding": {
  "x": {"field": "rank", "type": "quantitative", "scale": {"domain": [-8.842, 203.789], "nice": false, "zero": false},
        "axis": {"orient": "bottom", "values": [0, 50, 100, 150, 200], "grid": false, "domain": false, "ticks": true, "labels": true, "labelPadding": 5, "labelFlush": false, "labelOverlap": false, "title": "Hospitals ranked according to proportion of postoperative CRT", "titlePadding": 1, "titleX": 259.5, "titleAlign": "center", "zindex": 1}},
  "y": {"field": "proportion", "type": "quantitative", "scale": {"domain": [-0.03041, 1.03041], "nice": false, "zero": false},
        "axis": {"orient": "left", "offset": -13, "values": [0, 0.2, 0.4, 0.6, 0.8, 1], "grid": false, "domain": true, "labelAngle": 270, "labelPadding": 3, "labelFlush": false, "labelOverlap": false, "labelExpr": "datum.value == 0 ? '0' : datum.value == 1 ? '1' : replace(format(datum.value, '.1f'), '0.', '.')", "title": "Proportion of patients receiving postoperative CRT", "titlePadding": 2.5, "zindex": 1}},
  "color": {"field": "type", "type": "nominal", "scale": {"domain": ["Academic", "Community"], "range": ["#1b2f63", "#b5b5b5"]},
        "legend": {"title": null, "orient": "none", "legendX": 295, "legendY": 273, "direction": "horizontal"}},
  "order": {"field": "type", "sort": "ascending"}
 }}
],
"resolve": {"axis": {"x": "independent", "y": "independent"}}
}
],
"resolve": {"scale": {"x": "independent", "y": "independent", "color": "independent"}, "legend": {"color": "independent"}},
"config": {
 "view": {"fill": "white", "stroke": null},
 "axis": {"labelFont": "Liberation Sans", "titleFont": "Liberation Sans", "labelFontSize": 13.5, "titleFontSize": 14, "titleFontWeight": "normal", "labelColor": "#222222", "titleColor": "#222222", "tickColor": "#808080", "domainColor": "#808080", "tickSize": 5, "tickWidth": 1, "domainWidth": 1},
 "legend": {"fillColor": "white", "strokeColor": "#808080", "strokeWidth": 1, "cornerRadius": 0, "padding": 6, "symbolType": "circle", "symbolSize": 30, "symbolStrokeWidth": 0, "labelFont": "Liberation Sans", "labelFontSize": 14, "labelColor": "#222222", "labelOffset": 4, "columnPadding": 18}
}
}
